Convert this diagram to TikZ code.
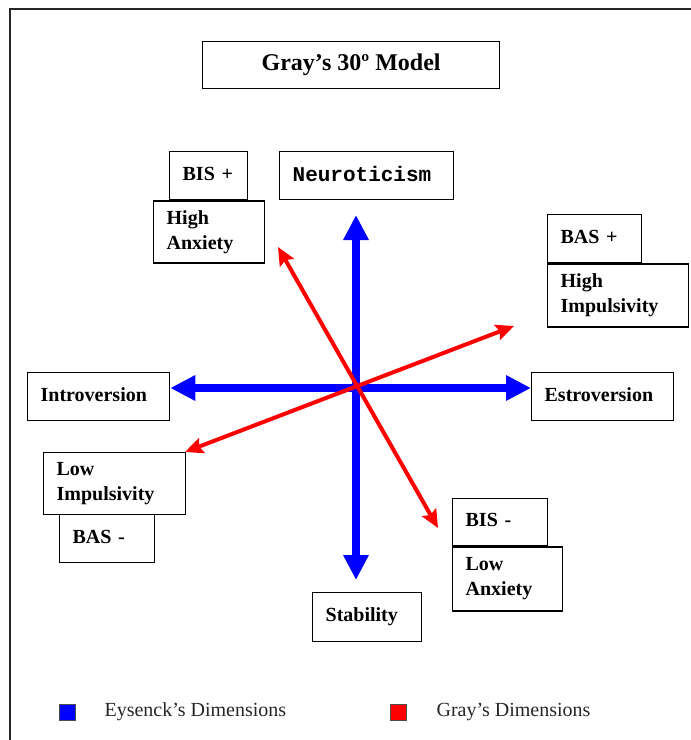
\documentclass[tikz,border=0pt]{standalone}
\usepackage{fontspec}
\setmainfont{Liberation Serif}
\newfontfamily\neurofont{Liberation Mono}
\usetikzlibrary{
  arrows.meta,
  positioning,
  calc
}
\definecolor{eyBlue}{HTML}{0000FF}
\definecolor{grRed}{HTML}{FF0000}
\tikzset{
  dimbox/.style={
    draw, line width=1.3pt, fill=white, anchor=north west, align=left,
    inner xsep=13pt, inner ysep=0pt,
    font=\fontsize{20}{25}\selectfont\bfseries
  },
  onebox/.style={dimbox, text depth=.45em},
  titlebox/.style={
    draw, line width=1.3pt, anchor=north west, minimum width=297pt, minimum height=47pt,
    font=\fontsize{24}{28}\selectfont\bfseries
  },
  eysenck/.style={{Triangle[length=25pt, width=24pt]}-{Triangle[length=25pt, width=24pt]}, line width=8pt, eyBlue},
  grayaxis/.style={{Stealth[length=18pt, width=16pt, inset=3pt]}-{Stealth[length=18pt, width=16pt, inset=3pt]}, line width=4pt, grRed},
  legkey/.style={draw=black!70, line width=.8pt, minimum size=16pt, inner sep=0pt},
  legtext/.style={font=\fontsize{20}{24}\selectfont, text=black!85, inner sep=0pt},
  frameline/.style={line width=2.5pt, black!85}
}
\begin{document}
\begin{tikzpicture}[x=1pt, y=-1pt]
  \useasboundingbox (0,0) rectangle (691,740);
  \draw[frameline] (10,740) -- (10,9) -- (691,9);
  \node[titlebox] (title) at (202,41) {Gray’s 30º Model};
  % boxes
  \node[onebox, minimum height=48pt, text width=52pt] (bisp) at (169,151) {BIS +};
  \node[dimbox, minimum height=62pt, text width=85pt, xshift=-16pt] (hanx) at (bisp.south west) {High\\Anxiety};
  \node[onebox, minimum height=48pt, text width=148pt, font=\fontsize{21}{25}\selectfont\neurofont\bfseries] (neuro) at (279,151) {Neuroticism};
  \node[onebox, minimum height=48pt, text width=68pt] (basp) at (547,214) {BAS +};
  \node[dimbox, minimum height=63pt, text width=115pt] (himp) at (basp.south west) {High\\Impulsivity};
  \node[onebox, minimum height=48pt, text width=116pt] (intro) at (27,372) {Introversion};
  \node[onebox, minimum height=48pt, text width=116pt] (estro) at (531,372) {Estroversion};
  \node[onebox, minimum height=48pt, text width=69pt] (basm) at (59,514) {BAS -};
  \node[dimbox, minimum height=62pt, text width=116pt] (limp) at (43,452) {Low\\Impulsivity};
  \node[onebox, minimum height=47pt, text width=69pt] (bism) at (452,498) {BIS -};
  \node[dimbox, minimum height=64pt, text width=84pt] (lanx) at (bism.south west) {Low\\Anxiety};
  \node[onebox, minimum height=49pt, text width=83pt] (stab) at (312,592) {Stability};
  % axes
  \coordinate (o) at (356,388);
  \coordinate (ntip) at (356,215);
  \coordinate (stip) at (356,580);
  \coordinate (hanxtip) at (278,247);
  \coordinate (lanxtip) at (438,528);
  \coordinate (himptip) at (514,326);
  \coordinate (limptip) at (185,452);
  \draw[eysenck] (ntip) -- (stip);
  \draw[eysenck] (o -| intro.east) -- (o -| estro.west);
  \draw[grayaxis] (hanxtip) -- (lanxtip);
  \draw[grayaxis] (limptip) -- (himptip);
  % legend
  \node[legkey, fill=eyBlue] (eykey) at (67,712) {};
  \node[legtext, right=29pt of eykey] (eytext) {Eysenck’s Dimensions};
  \node[legkey, fill=grRed] (grkey) at (398,712) {};
  \node[legtext, right=30pt of grkey] (grtext) {Gray’s Dimensions};
\end{tikzpicture}
\end{document}
